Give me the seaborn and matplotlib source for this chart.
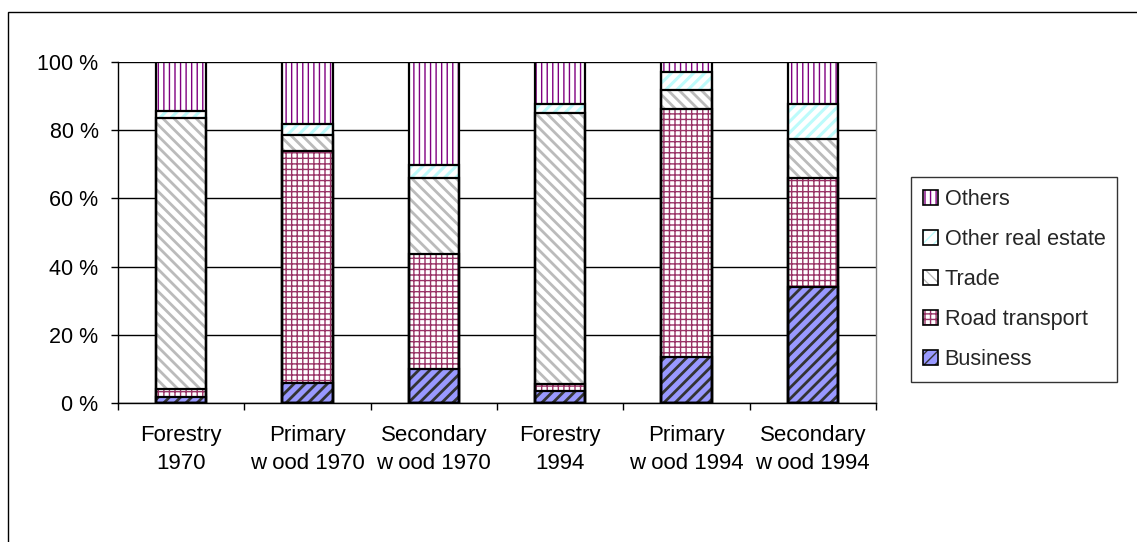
import numpy as np
import pandas as pd
import matplotlib
matplotlib.use("Agg")
import matplotlib.pyplot as plt
import seaborn as sns
from matplotlib.patches import Rectangle, Patch
from matplotlib.legend_handler import HandlerTuple
from matplotlib.ticker import FixedLocator

# ---- data (percent shares) ----
categories = ["Forestry\n1970", "Primary\nw ood 1970", "Secondary\nw ood 1970",
              "Forestry\n1994", "Primary\nw ood 1994", "Secondary\nw ood 1994"]
business = [1.8, 6.0, 10.0, 3.6, 13.6, 34.1]
road_transport = [2.3, 68.0, 33.6, 1.9, 72.6, 31.8]
trade = [79.4, 4.6, 22.3, 79.6, 5.6, 11.5]
other_real_estate = [2.2, 3.1, 3.9, 2.5, 5.2, 10.2]
others = [14.3, 18.3, 30.2, 12.4, 3.0, 12.4]
series_names = ["Business", "Road transport", "Trade", "Other real estate", "Others"]
y_ticks = [0, 20, 40, 60, 80, 100]
y_tick_labels = ["0 %", "20 %", "40 %", "60 %", "80 %", "100 %"]

# ---- styles ----
styles = {
    "Business": dict(face="#9999FF", hatchc="#333333", hatch="///", hlw=2.0),
    "Road transport": dict(face="white", hatchc="#993366", hatch="+++", hlw=1.0),
    "Trade": dict(face="white", hatchc="#BBBBBB", hatch="\\\\\\", hlw=2.0),
    "Other real estate": dict(face="white", hatchc="#BDFBFB", hatch="///", hlw=2.2),
    "Others": dict(face="white", hatchc="#800080", hatch="|||", hlw=1.0),
}

sns.set_theme(style="white")
plt.rcParams["font.family"] = ["Liberation Sans", "DejaVu Sans"]
FS = 16

HAS_HLW = hasattr(Patch(), "set_hatch_linewidth")


def apply_hatch(p, st, lw_scale=1.0):
    p.set_hatch(st["hatch"])
    p.set_edgecolor(st["hatchc"])
    p.set_linewidth(0)
    if HAS_HLW:
        p.set_hatch_linewidth(st["hlw"] * lw_scale)


fig = plt.figure(figsize=(11.37, 5.42), dpi=100)
W, H = 1137, 542
ax = fig.add_axes([118 / W, 1 - 403 / H, (876 - 118) / W, (403 - 62) / H])

values = [business, road_transport, trade, other_real_estate, others]
cums = np.cumsum(np.array(values), axis=0)
BW = 0.4

# hatched fills, drawn from top layer downwards
for i in range(len(series_names) - 1, -1, -1):
    name = series_names[i]
    st = styles[name]
    df = pd.DataFrame({"cat": categories, "val": cums[i]})
    n_before = len(ax.patches)
    with plt.rc_context({"hatch.linewidth": st["hlw"]}):
        sns.barplot(data=df, x="cat", y="val", order=categories, color=st["face"],
                    saturation=1, width=BW, ax=ax, linewidth=0,
                    edgecolor=st["hatchc"], errorbar=None)
        for p in ax.patches[n_before:]:
            apply_hatch(p, st)
            p.set_zorder(2)

# black outlines
for i in range(len(series_names) - 1, -1, -1):
    df = pd.DataFrame({"cat": categories, "val": cums[i]})
    n_before = len(ax.patches)
    sns.barplot(data=df, x="cat", y="val", order=categories, color="black",
                fill=False, width=BW, ax=ax, linewidth=1.6, errorbar=None)
    for p in ax.patches[n_before:]:
        p.set_facecolor("none")
        p.set_edgecolor("black")
        p.set_linewidth(1.6)
        p.set_zorder(3)

ax.set_xlim(-0.5, len(categories) - 0.5)
ax.set_ylim(0, 100)
ax.set_xlabel("")
ax.set_ylabel("")
ax.set_yticks(y_ticks)
ax.set_yticklabels(y_tick_labels, fontsize=15.5)
ax.set_xticks(range(len(categories)))
ax.set_xticklabels(categories, fontsize=FS, linespacing=1.45)
ax.xaxis.set_minor_locator(FixedLocator(np.arange(-0.5, len(categories), 1.0)))
ax.tick_params(axis="x", which="major", length=0, pad=16, colors="black")
ax.tick_params(axis="x", which="minor", length=5, width=1, direction="out",
               color="black", bottom=True)
ax.tick_params(axis="y", which="major", length=5, width=1, direction="out",
               pad=9, colors="black", left=True)
ax.yaxis.grid(True, color="black", linewidth=1)
ax.xaxis.grid(False)
ax.set_axisbelow(True)
for s in ["left", "bottom"]:
    ax.spines[s].set_color("black")
    ax.spines[s].set_linewidth(1)
ax.spines["right"].set_color("#808080")
ax.spines["right"].set_linewidth(1)
ax.spines["top"].set_visible(False)

# legend (top entry first)
handles = []
labels = []
for name in series_names[::-1]:
    st = styles[name]
    with plt.rc_context({"hatch.linewidth": st["hlw"] * 0.7}):
        h1 = Patch(facecolor=st["face"], edgecolor=st["hatchc"], hatch=st["hatch"], linewidth=0)
        if HAS_HLW:
            h1.set_hatch_linewidth(st["hlw"] * 0.7)
    h2 = Patch(facecolor="none", edgecolor="black", linewidth=1.2)
    handles.append((h1, h2))
    labels.append(name)
leg = fig.legend(handles, labels, loc="upper left",
                 bbox_to_anchor=(911 / W, 1 - 177 / H), bbox_transform=fig.transFigure,
                 handler_map={tuple: HandlerTuple(ndivide=1)},
                 fontsize=15.6, frameon=True, fancybox=False, shadow=False,
                 handlelength=0.7, handleheight=0.7, handletextpad=0.3,
                 labelspacing=0.88, borderpad=0.55, borderaxespad=0)
leg.get_frame().set_edgecolor("black")
leg.get_frame().set_linewidth(1)

# outer chart frame (only left and top visible in the image)
fig.add_artist(Rectangle((8 / W, -0.5), 2, 1 - 12 / H + 0.5, transform=fig.transFigure,
                         fill=False, edgecolor="black", linewidth=1))

fig.savefig("out.png", dpi=100, facecolor="white")
